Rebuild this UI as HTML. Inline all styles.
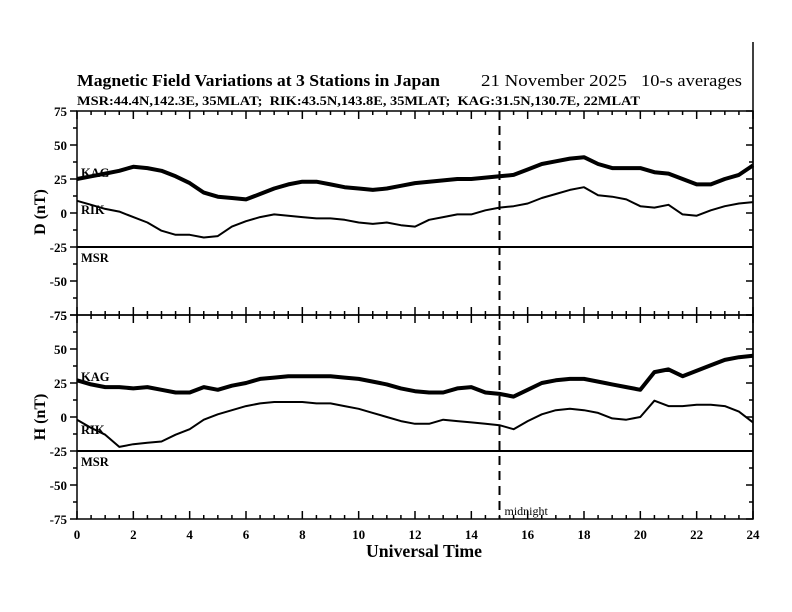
<!DOCTYPE html>
<html><head><meta charset="utf-8"><style>
html,body{margin:0;padding:0;background:#fff}
svg{display:block;font-family:"Liberation Serif",serif}
</style></head><body>
<svg id="chart" width="792" height="612" viewBox="0 0 792 612">
<text x="77" y="86" font-size="17" font-weight="bold" textLength="363" lengthAdjust="spacingAndGlyphs">Magnetic Field Variations at 3 Stations in Japan</text>
<text x="481" y="86" font-size="17" textLength="146" lengthAdjust="spacingAndGlyphs">21 November 2025</text>
<text x="641" y="86" font-size="17" textLength="101" lengthAdjust="spacingAndGlyphs">10-s averages</text>
<text x="77" y="105" font-size="12.5" font-weight="bold" textLength="563" lengthAdjust="spacingAndGlyphs" xml:space="preserve">MSR:44.4N,142.3E, 35MLAT;  RIK:43.5N,143.8E, 35MLAT;  KAG:31.5N,130.7E, 22MLAT</text>
<line x1="753" y1="42" x2="753" y2="519" stroke="#000" stroke-width="1.5"/>
<g id="plots"></g>
<text x="424" y="557" font-size="18" font-weight="bold" text-anchor="middle" textLength="116" lengthAdjust="spacingAndGlyphs">Universal Time</text>
<text transform="translate(45,212) rotate(-90)" font-size="16" font-weight="bold" text-anchor="middle">D (nT)</text>
<text transform="translate(45,417) rotate(-90)" font-size="16" font-weight="bold" text-anchor="middle">H (nT)</text>
</svg>
<script>
const hours=[0,0.5,1,1.5,2,2.5,3,3.5,4,4.5,5,5.5,6,6.5,7,7.5,8,8.5,9,9.5,10,10.5,11,11.5,12,12.5,13,13.5,14,14.5,15,15.5,16,16.5,17,17.5,18,18.5,19,19.5,20,20.5,21,21.5,22,22.5,23,23.5,24];
const dKAG=[25,27,29,31,34,33,31,27,22,15,12,11,10,14,18,21,23,23,21,19,18,17,18,20,22,23,24,25,25,26,27,28,32,36,38,40,41,36,33,33,33,30,29,25,21,21,25,28,35];
const dRIK=[9,6,3,1,-3,-7,-13,-16,-16,-18,-17,-10,-6,-3,-1,-2,-3,-4,-4,-5,-7,-8,-7,-9,-10,-5,-3,-1,-1,2,4,5,7,11,14,17,19,13,12,10,5,4,6,-1,-2,2,5,7,8];
const hKAG=[27,24,22,22,21,22,20,18,18,22,20,23,25,28,29,30,30,30,30,29,28,26,24,21,19,18,18,21,22,18,17,15,20,25,27,28,28,26,24,22,20,33,35,30,34,38,42,44,45];
const hRIK=[-2,-8,-13,-22,-20,-19,-18,-13,-9,-2,2,5,8,10,11,11,11,10,10,8,6,3,0,-3,-5,-5,-2,-3,-4,-5,-6,-9,-3,2,5,6,5,3,-1,-2,0,12,8,8,9,9,8,4,-4];
const msrLevel=-25;
const yTicks=[75,50,25,0,-25,-50,-75];
const xTicks=[0,2,4,6,8,10,12,14,16,18,20,22,24];
const midnightHour=15;

const NS='http://www.w3.org/2000/svg';
const X0=77,X1=753;
const xs=h=>X0+(X1-X0)*h/24;
const g=document.getElementById('plots');
function mk(tag,attrs){const e=document.createElementNS(NS,tag);for(const k in attrs)e.setAttribute(k,attrs[k]);g.appendChild(e);return e;}
function panel(top,bot,kag,rik,prefix,labY,showX){
  const ys=v=>top+(bot-top)*(75-v)/150;
  let r=mk('rect',{x:X0,y:top,width:X1-X0,height:bot-top,fill:'none',stroke:'#000','stroke-width':1.5});
  
  
  for(let v=75;v>=-75;v-=12.5){
    const major=v%25===0;
    let t=mk('line',{x1:X0-(major?7:4),x2:X0,y1:ys(v),y2:ys(v),stroke:'#000','stroke-width':1.5});
    
    
    let t2=mk('line',{x1:X1,x2:X1-(major?7:4),y1:ys(v),y2:ys(v),stroke:'#000','stroke-width':1.5});
    
    
  }
  yTicks.forEach(v=>{
    let t=mk('text',{x:X0-10,y:ys(v)+5,'font-size':13,'font-weight':'bold','text-anchor':'end'});
    t.textContent=v;
    
    
  });
  for(let h=0;h<=24;h+=0.5){
    const major=h%2===0;
    let a=mk('line',{x1:xs(h),x2:xs(h),y1:top,y2:top+(major?8:4),stroke:'#000','stroke-width':1.5});
    
    
    let b=mk('line',{x1:xs(h),x2:xs(h),y1:bot,y2:bot-(major?8:4),stroke:'#000','stroke-width':1.5});
    
    
  }
  const path=arr=>arr.map((v,i)=>(i?'L':'M')+xs(hours[i]).toFixed(1)+','+ys(v).toFixed(1)).join('');
  let k=mk('path',{d:path(kag),fill:'none',stroke:'#000','stroke-width':4,'stroke-linejoin':'round'});
  
  
  let ri=mk('path',{d:path(rik),fill:'none',stroke:'#000','stroke-width':2,'stroke-linejoin':'round'});
  
  
  let m=mk('line',{x1:X0,x2:X1,y1:ys(msrLevel),y2:ys(msrLevel),stroke:'#000','stroke-width':2});
  
  
  const labs=[['KAG',labY[0]],['RIK',labY[1]],['MSR',labY[2]]];
  labs.forEach(([n,y])=>{
    let t=mk('text',{x:81,y:y,'font-size':12.5,'font-weight':'bold'});
    t.textContent=n;
    
    
  });
  if(showX){
    xTicks.forEach(h=>{
      let t=mk('text',{x:xs(h),y:bot+20,'font-size':13,'font-weight':'bold','text-anchor':'middle'});
      t.textContent=h;
      
      
    });
  }
}
panel(111,315,dKAG,dRIK,'d',[177,214,262],false);
panel(315,519,hKAG,hRIK,'h',[381,434,466],true);
let dl=mk('line',{x1:xs(midnightHour),x2:xs(midnightHour),y1:111,y2:519,stroke:'#000','stroke-width':2,'stroke-dasharray':'9,6'});


let mt=mk('text',{x:xs(midnightHour)+5,y:515,'font-size':12});
mt.textContent='midnight';


</script>
</body></html>
